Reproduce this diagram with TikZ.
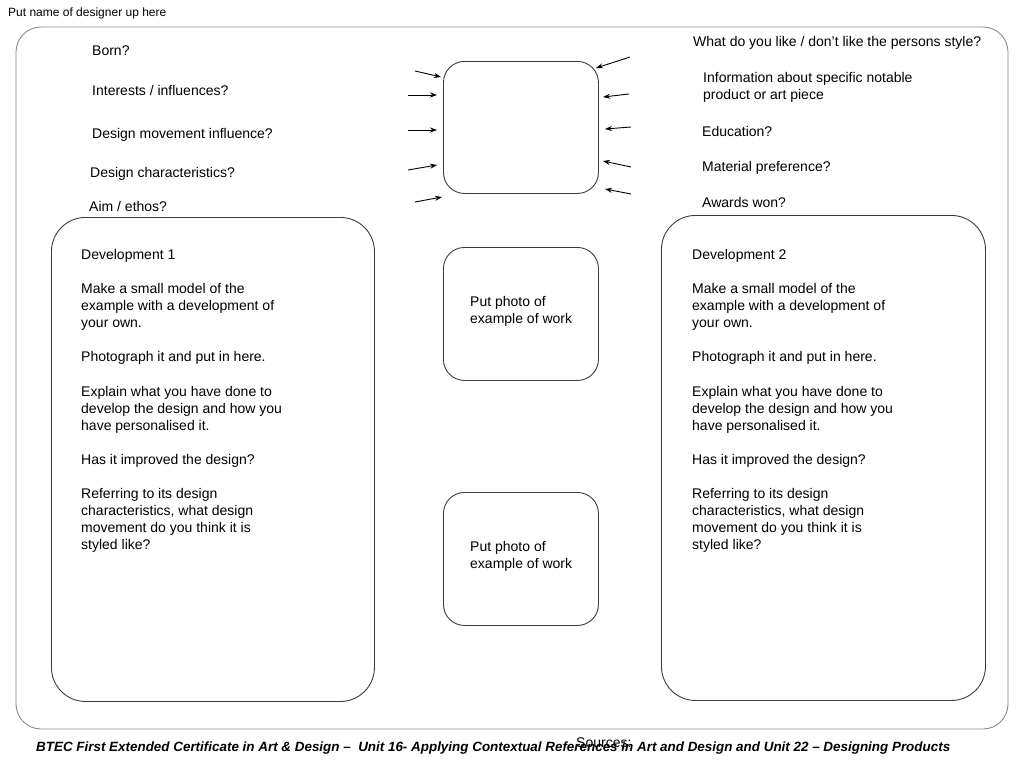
\documentclass[tikz,border=0pt]{standalone}
\usepackage{fontspec}
\usepackage{graphicx}
\setmainfont{Liberation Sans}
\usetikzlibrary{arrows.meta,positioning}
\definecolor{framegray}{HTML}{8C8C8C}
\definecolor{boxgray}{HTML}{3C3C3C}
\tikzset{
  frame/.style={draw=framegray, line width=0.9pt, rounded corners=25pt},
  panel/.style={draw=boxgray, line width=0.9pt, rounded corners=34pt, anchor=north west, inner sep=0pt},
  photobox/.style={draw=boxgray, line width=0.9pt, rounded corners=21pt, anchor=north west, inner sep=0pt},
  lbl/.style={anchor=base west, inner sep=0pt, font=\fontsize{14}{17}\selectfont},
  note/.style={anchor=north west, inner sep=0pt, align=left, font=\fontsize{14}{17}\selectfont},
  pointer/.style={-{Stealth[length=7pt,width=5pt]}, line width=0.9pt}
}

\begin{document}
\begin{tikzpicture}[x=1pt, y=-1pt]
\useasboundingbox[fill=white] (0,0) rectangle (1024,768);
% outer sheet
\draw[frame] (16,27) rectangle (1008,729);
\node[anchor=west, inner sep=0pt, font=\fontsize{12}{14}\selectfont] (designer) at (8,13) {Put name of designer up here};

% centre picture and the questions round it
\node[photobox, minimum width=155pt, minimum height=132pt] (hub) at (443,61) {};
\node[lbl] (born) at (92,56) {Born?};
\node[lbl] (interests) at (92,95) {Interests / influences?};
\node[lbl] (movement) at (92,138) {Design movement influence?};
\node[lbl] (traits) at (90,177) {Design characteristics?};
\node[lbl] (ethos) at (89,211) {Aim / ethos?};
\node[lbl] (likes) at (693,47) {What do you like / don’t like the persons style?};
\node[note] (product) at (703,72) {Information about specific notable\\product or art piece};
\node[lbl] (education) at (702,136) {Education?};
\node[lbl] (material) at (702,171) {Material preference?};
\node[lbl] (awards) at (702,207) {Awards won?};

\foreach \n/\ax/\ay/\bx/\by in {l1/415/71/441/77, l2/408/95/437/95, l3/408/130/437/130,
  l4/408/170/437/165, l5/415/202/442/197, r1/630/57/596/68, r2/629/94/603/97,
  r3/631/127/605/129, r4/631/167/603/161, r5/631/194/605/189} {
  \coordinate (s\n) at (\ax,\ay);
  \coordinate (e\n) at (\bx,\by);
  \draw[pointer] (s\n) -- (e\n);
}

% development panels
\node[panel, minimum width=323pt, minimum height=484pt] (dev1) at (51,217) {};
\node[panel, minimum width=324pt, minimum height=485pt] (dev2) at (661,215) {};
\node[photobox, minimum width=155pt, minimum height=133pt] (photo1) at (443,247) {};
\node[photobox, minimum width=155pt, minimum height=133pt] (photo2) at (443,492) {};

\node[note] (devtext1) at (81,249) {Development 1\\[17pt]
  Make a small model of the\\example with a development of\\your own.\\[17pt]
  Photograph it and put in here.\\[18pt]
  Explain what you have done to\\develop the design and how you\\have personalised it.\\[17pt]
  Has it improved the design?\\[17pt]
  Referring to its design\\characteristics, what design\\movement do you think it is\\styled like?};
\node[note] (devtext2) at (692,249) {Development 2\\[17pt]
  Make a small model of the\\example with a development of\\your own.\\[17pt]
  Photograph it and put in here.\\[18pt]
  Explain what you have done to\\develop the design and how you\\have personalised it.\\[17pt]
  Has it improved the design?\\[17pt]
  Referring to its design\\characteristics, what design\\movement do you think it is\\styled like?};
\node[note] (phototext1) at (470,296) {Put photo of\\example of work};
\node[note] (phototext2) at (470,541) {Put photo of\\example of work};

% footer
\node[anchor=west, inner sep=0pt] (footer) at (36,748) {\resizebox{914pt}{!}{\bfseries\itshape BTEC First Extended Certificate in Art \& Design --\ \ Unit 16- Applying Contextual References in Art and Design and Unit 22 -- Designing Products}};
\node[lbl] (sources) at (576,747) {Sources:};
\end{tikzpicture}
\end{document}
